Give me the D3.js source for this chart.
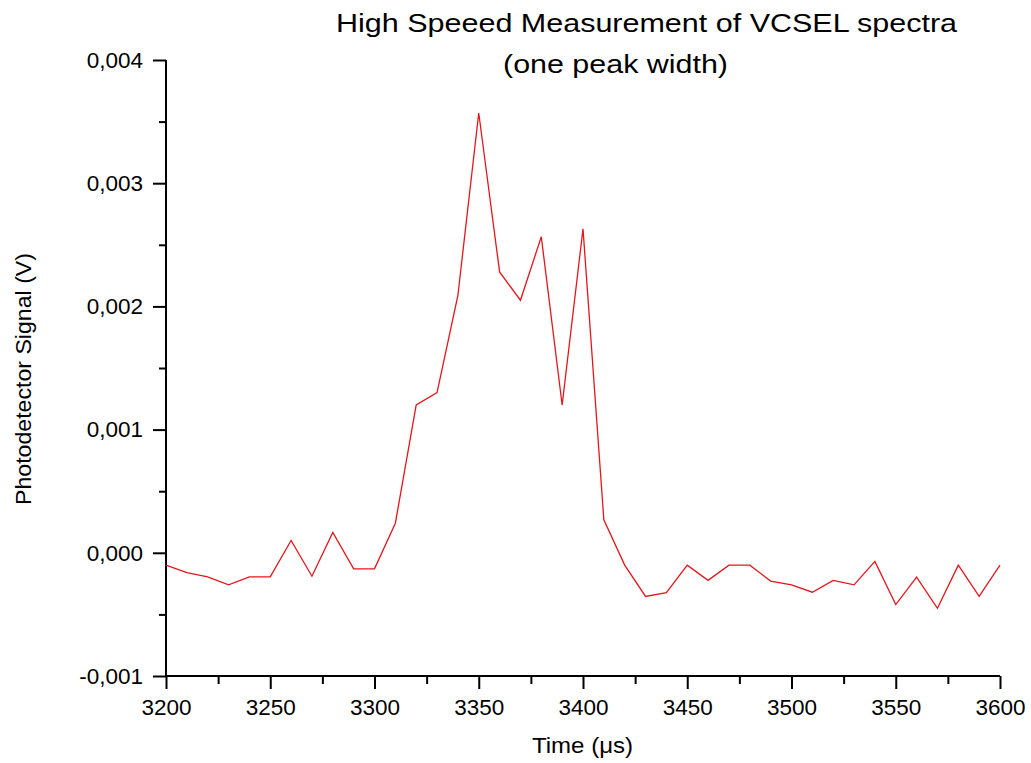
<!DOCTYPE html>
<html>
<head>
<meta charset="utf-8">
<script src="https://cdn.jsdelivr.net/npm/d3@7"></script>
<style>
  html, body { margin: 0; padding: 0; background: #fff; }
  svg { display: block; font-family: "Liberation Sans", Arial, sans-serif; }
</style>
</head>
<body>
<svg id="chart" width="1031" height="763"></svg>
<script>
// time in microseconds, signal in volts
const times = [
  3200, 3210, 3220, 3230, 3240, 3250, 3260, 3270, 3280, 3290,
  3300, 3310, 3320, 3330, 3340, 3350, 3360, 3370, 3380, 3390,
  3400, 3410, 3420, 3430, 3440, 3450, 3460, 3470, 3480, 3490,
  3500, 3510, 3520, 3530, 3540, 3550, 3560, 3570, 3580, 3590, 3600
];
const signal = [
  -0.00010, -0.00016, -0.000195, -0.00026, -0.000195, -0.000195, 0.00010, -0.00019, 0.000165, -0.00013,
  -0.00013, 0.00024, 0.00120, 0.00130, 0.00209, 0.00357, 0.00228, 0.00205, 0.002565, 0.00120,
  0.00263, 0.000268, -0.00010, -0.000354, -0.000324, -0.00010, -0.000224, -0.00010, -0.00010, -0.00023,
  -0.00026, -0.00032, -0.000224, -0.00026, -0.00007, -0.00042, -0.000197, -0.00045, -0.00010, -0.000354, -0.00010
];
const xTicks = [3200, 3250, 3300, 3350, 3400, 3450, 3500, 3550, 3600];
const yTicks = [-0.001, 0, 0.001, 0.002, 0.003, 0.004];
const titleLines = ['High Speeed Measurement of VCSEL spectra', '(one peak width)'];

const svg = d3.select('#chart');
const plotL = 166, plotR = 1000, plotT = 60, plotB = 676;

const x = d3.scaleLinear().domain([3200, 3600]).range([plotL, plotR]);
const y = d3.scaleLinear().domain([-0.001, 0.004]).range([plotB, plotT]);

const locale = d3.formatLocale({ decimal: ',', thousands: '.', grouping: [3], currency: ['', ''], minus: '-' });
const fmtY = locale.format('.3f');

// minor ticks (half steps) first, then major ticks with labels
const xMinor = d3.range(3225, 3600, 50);
const yMinor = d3.range(-0.0005, 0.004, 0.001);

const xAxisMinor = svg.append('g')
  .attr('transform', `translate(0,${plotB})`)
  .call(d3.axisBottom(x).tickValues(xMinor).tickSize(8).tickFormat(''));
const yAxisMinor = svg.append('g')
  .attr('transform', `translate(${plotL},0)`)
  .call(d3.axisLeft(y).tickValues(yMinor).tickSize(7).tickFormat(''));
[xAxisMinor, yAxisMinor].forEach(g => {
  g.select('.domain').remove();
  g.selectAll('line').attr('stroke', '#000').attr('stroke-width', 2);
});

const xAxis = svg.append('g')
  .attr('transform', `translate(0,${plotB})`)
  .call(d3.axisBottom(x).tickValues(xTicks).tickSize(13).tickPadding(10).tickFormat(d3.format('d')));
const yAxis = svg.append('g')
  .attr('transform', `translate(${plotL},0)`)
  .call(d3.axisLeft(y).tickValues(yTicks).tickSize(13).tickPadding(10).tickFormat(fmtY));

[xAxis, yAxis].forEach(g => {
  g.select('.domain').attr('stroke', '#000').attr('stroke-width', 2);
  g.selectAll('line').attr('stroke', '#000').attr('stroke-width', 2);
  g.selectAll('text').attr('fill', '#000').style('font-size', '22.5px')
    .style('font-family', '"Liberation Sans", Arial, sans-serif');
});
xAxis.select('.domain').attr('d', `M${plotL},0H${plotR}`);
yAxis.select('.domain').attr('d', `M0,${plotB}V${plotT}`);

// data line
const pts = times.map((t, i) => [t, signal[i]]);
svg.append('path')
  .datum(pts)
  .attr('fill', 'none')
  .attr('stroke', '#e3161c')
  .attr('stroke-width', 1.3)
  .attr('d', d3.line().x(d => x(d[0])).y(d => y(d[1])));

// titles (original font is a bit wider than Liberation Sans, so stretch to width)
svg.append('text')
  .attr('x', 646.5).attr('y', 32)
  .attr('text-anchor', 'middle')
  .attr('textLength', 621).attr('lengthAdjust', 'spacingAndGlyphs')
  .style('font-size', '26px')
  .text(titleLines[0]);
svg.append('text')
  .attr('x', 615.5).attr('y', 73)
  .attr('text-anchor', 'middle')
  .attr('textLength', 225).attr('lengthAdjust', 'spacingAndGlyphs')
  .style('font-size', '26px')
  .text(titleLines[1]);

svg.append('text')
  .attr('x', 582.5).attr('y', 753)
  .attr('text-anchor', 'middle')
  .attr('textLength', 101).attr('lengthAdjust', 'spacingAndGlyphs')
  .style('font-size', '22px')
  .text('Time (μs)');

svg.append('text')
  .attr('transform', 'translate(31,379) rotate(-90)')
  .attr('text-anchor', 'middle')
  .attr('textLength', 252).attr('lengthAdjust', 'spacingAndGlyphs')
  .style('font-size', '22px')
  .text('Photodetector Signal (V)');
</script>
</body>
</html>
